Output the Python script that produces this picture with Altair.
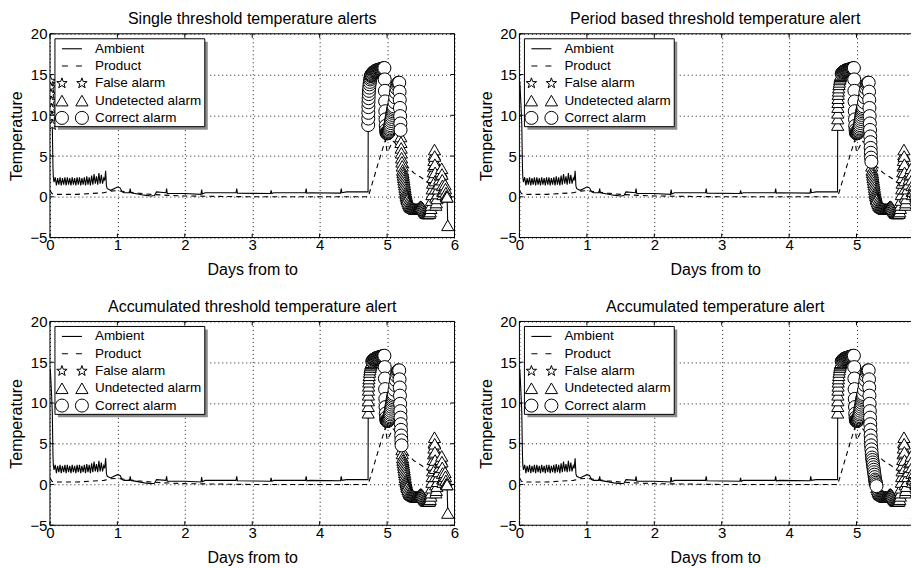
import altair as alt
import pandas as pd

FONT = "Liberation Sans"

TITLES = [
    "Single threshold temperature alerts",
    "Period based threshold temperature alert",
    "Accumulated threshold temperature alert",
    "Accumulated temperature alert",
]
X_TICKS = [0, 1, 2, 3, 4, 5, 6]
Y_TICKS = [-5, 0, 5, 10, 15, 20]
X_TITLE = "Days from to"
Y_TITLE = "Temperature"

# Ambient temperature (days, degrees)
T_AMB = [
    0.000, 0.005, 0.010, 0.015, 0.020, 0.025, 0.030, 0.035, 0.040, 0.045, 0.050, 0.060,
    0.078, 0.096, 0.114, 0.132, 0.150, 0.168, 0.186, 0.204, 0.222, 0.240,
    0.258, 0.276, 0.294, 0.312, 0.330, 0.348, 0.366, 0.384, 0.402, 0.420,
    0.438, 0.456, 0.474, 0.492, 0.510, 0.528, 0.546, 0.564, 0.582, 0.600,
    0.618, 0.636, 0.654, 0.672, 0.690, 0.708, 0.726, 0.744, 0.762, 0.780, 0.798,
    0.812, 0.826, 0.838, 0.850,
    0.90, 0.95, 1.00, 1.04, 1.07, 1.10, 1.18, 1.19, 1.20, 1.30,
    1.40, 1.50, 1.55, 1.58, 1.72, 1.73, 1.74, 2.00, 2.24, 2.25,
    2.26, 2.30, 2.76, 2.77, 2.78, 3.27, 3.28, 3.29, 3.32, 3.79,
    3.80, 3.81, 3.86, 4.31, 4.32, 4.33, 4.40, 4.718,
    4.720, 4.721, 4.722, 4.723, 4.724, 4.726, 4.728, 4.731, 4.735, 4.740,
    4.745, 4.750, 4.755, 4.760, 4.765, 4.770, 4.780, 4.790, 4.800, 4.810,
    4.820, 4.830, 4.840, 4.850, 4.860, 4.870, 4.880, 4.890, 4.900, 4.910,
    4.920, 4.930, 4.940, 4.950, 4.960, 4.965, 4.968, 4.971, 4.974, 4.977,
    4.980, 4.985, 4.990, 4.995, 5.000, 5.005, 5.010, 5.015, 5.020, 5.025,
    5.030, 5.035, 5.040, 5.045, 5.050, 5.055, 5.060, 5.065, 5.070, 5.075,
    5.080, 5.085, 5.090, 5.095, 5.100, 5.110, 5.120, 5.130, 5.140, 5.150,
    5.160, 5.170, 5.180, 5.185, 5.188, 5.191, 5.194, 5.197, 5.200, 5.203,
    5.206, 5.209, 5.212, 5.215, 5.220, 5.225, 5.230, 5.235, 5.240, 5.245,
    5.250, 5.255, 5.260, 5.265, 5.270, 5.275, 5.280, 5.285, 5.290, 5.295,
    5.300, 5.310, 5.320, 5.330, 5.340, 5.350, 5.360, 5.370, 5.380, 5.390,
    5.400, 5.410, 5.420, 5.430, 5.440, 5.450, 5.460, 5.470, 5.480, 5.490,
    5.500, 5.510, 5.520, 5.530, 5.540, 5.550, 5.560, 5.570, 5.580, 5.590,
    5.600, 5.610, 5.620, 5.630, 5.640, 5.650, 5.655, 5.660, 5.665, 5.670,
    5.675, 5.680, 5.685, 5.690, 5.695, 5.700, 5.703, 5.706, 5.709, 5.712,
    5.715, 5.718, 5.721, 5.724, 5.730, 5.740, 5.750, 5.760, 5.770, 5.780,
    5.790, 5.800, 5.810, 5.814, 5.818, 5.822, 5.826, 5.830, 5.840, 5.850,
    5.860, 5.866, 5.872, 5.878, 5.884, 5.890, 5.900,
]
Y_AMB = [
    13.8, 14.2, 13.4, 12.6, 11.7, 10.8, 9.8, 8.8, 6.0, 3.5, 2.4, 1.8,
    2.4, 1.4, 2.3, 1.5, 2.4, 1.4, 2.3, 1.5, 2.4, 1.4,
    2.4, 1.5, 2.3, 1.4, 2.4, 1.5, 2.3, 1.4, 2.4, 1.5,
    2.4, 1.4, 2.3, 1.5, 2.4, 1.4, 2.5, 1.5, 2.4, 1.4,
    2.6, 1.5, 2.8, 1.6, 2.5, 1.5, 2.9, 1.6, 2.7, 1.6, 2.3,
    2.0, 3.2, 1.3, 1.0,
    0.8, 1.0, 1.2, 1.1, 0.6, 0.5, 0.5, 1.0, 0.5, 0.35,
    0.2, 0.1, 0.15, 0.6, 0.5, 1.0, 0.4, 0.4, 0.3, 0.9,
    0.35, 0.5, 0.5, 1.0, 0.45, 0.4, 0.8, 0.4, 0.5, 0.5,
    1.0, 0.45, 0.5, 0.45, 1.0, 0.5, 0.6, 0.6,
    8.8, 9.6, 10.3, 11.0, 11.6, 12.1, 12.6, 13.0, 13.4, 13.8,
    14.1, 14.4, 14.6, 14.8, 14.9, 15.0, 15.1, 15.2, 15.3, 15.35,
    15.4, 15.45, 15.5, 15.5, 15.55, 15.55, 15.6, 15.6, 15.65, 15.65,
    15.7, 15.7, 15.75, 15.75, 15.8, 14.4, 13.0, 11.7, 10.5, 9.5,
    8.7, 8.2, 7.9, 7.8, 7.8, 7.8, 7.8, 7.85, 7.9, 8.0,
    8.1, 8.25, 8.4, 8.6, 8.8, 9.05, 9.3, 9.55, 9.8, 10.05,
    10.3, 10.5, 10.7, 10.9, 11.1, 11.6, 12.2, 12.8, 13.3, 13.7,
    13.9, 14.0, 14.0, 12.9, 11.9, 10.9, 9.9, 9.0, 8.2, 7.4,
    6.7, 6.0, 5.4, 4.8, 4.3, 3.8, 3.3, 3.0, 2.7, 2.4,
    2.1, 1.8, 1.5, 1.2, 0.9, 0.6, 0.4, 0.2, 0.0, -0.2,
    -0.35, -0.6, -0.8, -1.0, -1.1, -1.2, -1.25, -1.3, -1.35, -1.4,
    -1.45, -1.5, -1.5, -1.5, -1.5, -1.5, -1.45, -1.4, -1.3, -1.2,
    -1.15, -1.2, -1.3, -1.4, -1.55, -1.7, -1.8, -1.9, -2.0, -2.0,
    -2.05, -2.05, -2.0, -2.0, -1.8, -1.4, -1.0, -0.4, 0.3, 1.0,
    1.7, 2.4, 3.1, 3.8, 4.5, 5.2, 5.8, 5.0, 4.0, 3.0,
    2.0, 1.0, 0.0, -1.0, -0.7, -0.2, 0.4, 1.0, 1.6, 2.2,
    2.7, 3.1, 3.5, 2.8, 2.1, 1.4, 0.7, 0.3, 0.7, 1.1,
    1.5, 1.0, 0.5, 0.1, 0.0, 0.0, -3.5,
]

# Product temperature (days, degrees)
T_PROD = [
    0.0, 0.03, 0.06, 0.2, 0.4, 0.6, 0.8, 0.9, 1.0, 1.1,
    1.2, 1.3, 1.5, 1.7, 2.0, 2.5, 3.0, 3.5, 4.0, 4.5,
    4.72, 4.75, 4.8, 4.85, 4.9, 4.95, 4.975, 5.0, 5.03, 5.06,
    5.09, 5.12, 5.16, 5.2, 5.25, 5.3, 5.35, 5.4, 5.5, 5.6,
    5.7, 5.75, 5.8, 5.85, 5.9, 5.95, 6.0,
]
Y_PROD = [
    0.8, 0.4, 0.3, 0.3, 0.3, 0.4, 0.5, 0.7, 0.75, 0.65,
    0.55, 0.45, 0.3, 0.2, 0.1, 0.05, 0.0, 0.0, 0.0, 0.0,
    0.0, 0.8, 2.2, 3.6, 5.0, 6.3, 7.0, 5.5, 5.9, 6.4,
    6.8, 6.6, 5.8, 5.0, 4.2, 3.7, 3.3, 2.9, 2.4, 1.8,
    1.0, 0.7, 0.4, 0.1, -0.2, -0.4, -0.6,
]

# Alarm classification of ambient samples per panel: (kind, from day, to day)
SEGMENTS = [
    [("False alarm", 0.0, 0.036), ("Correct alarm", 4.72, 5.201), ("Undetected alarm", 5.202, 6.0)],
    [("Undetected alarm", 4.72, 4.775), ("Correct alarm", 4.776, 5.221), ("Undetected alarm", 5.222, 6.0)],
    [("Undetected alarm", 4.72, 4.775), ("Correct alarm", 4.776, 5.216), ("Undetected alarm", 5.217, 6.0)],
    [("Undetected alarm", 4.72, 4.775), ("Correct alarm", 4.776, 5.296), ("Undetected alarm", 5.297, 6.0)],
]

KINDS = ["False alarm", "Undetected alarm", "Correct alarm"]
STAR = ("M0,-1L0.235,-0.324L0.951,-0.309L0.38,0.124L0.588,0.809L0,0.4"
        "L-0.588,0.809L-0.38,0.124L-0.951,-0.309L-0.235,-0.324Z")
SHAPES = {"False alarm": STAR, "Undetected alarm": "triangle-up", "Correct alarm": "circle"}
SIZES = {"False alarm": 120, "Undetected alarm": 150, "Correct alarm": 170}
LEGEND_LABELS = ["Ambient", "Product", "False alarm", "Undetected alarm", "Correct alarm"]

# layout: left column shows the full 0..6 day axis, right column is cut by the page edge
PX_PER_DAY = 67.5
W_LEFT, W_RIGHT, H = 405, 392, 204
LEG_Y0, LEG_DY = 15, 17.3
TICK_LEN = 4


def make_panel(k, width, full):
    amb = pd.DataFrame({"t": T_AMB, "v": Y_AMB})
    amb["i"] = range(len(amb))
    prod = pd.DataFrame({"t": T_PROD, "v": Y_PROD})
    prod["i"] = range(len(prod))

    def kind_of(t):
        for name, a, b in SEGMENTS[k]:
            if a <= t <= b:
                return name
        return ""

    amb["kind"] = amb["t"].map(kind_of)

    xmax = width / PX_PER_DAY
    xt = [v for v in X_TICKS if v <= xmax + 1e-9]
    x = alt.X("t:Q", scale=alt.Scale(domain=[0, xmax], nice=False, zero=False),
              axis=alt.Axis(values=xt, title=X_TITLE, format="d"))
    y = alt.Y("v:Q", scale=alt.Scale(domain=[-5, 20], nice=False, zero=False),
              axis=alt.Axis(values=Y_TICKS, title=Y_TITLE, format="d"))

    layers = [
        alt.Chart(amb).mark_line(color="black", strokeWidth=1.1, clip=True)
        .encode(x=x, y=y, order="i:Q"),
        alt.Chart(prod).mark_line(color="black", strokeWidth=1.1, strokeDash=[5, 4], clip=True)
        .encode(x="t:Q", y="v:Q", order="i:Q"),
    ]
    for kind in KINDS:
        sub = amb[amb["kind"] == kind]
        if len(sub):
            layers.append(
                alt.Chart(sub).mark_point(shape=SHAPES[kind], size=SIZES[kind], filled=True,
                                          fill="white", stroke="black", strokeWidth=1.0,
                                          opacity=1, clip=True)
                .encode(x="t:Q", y="v:Q")
            )

    one = pd.DataFrame({"a": [0]})
    # frame
    frame = [(0, width, 0, 0), (0, width, H, H), (0, 0, 0, H)]
    if full:
        frame.append((width, width, 0, H))
    for x0, x1, y0, y1 in frame:
        layers.append(alt.Chart(one).mark_rule(color="black", strokeWidth=1)
                      .encode(x=alt.value(x0), x2=alt.value(x1), y=alt.value(y0), y2=alt.value(y1)))
    # inward ticks (matplotlib style)
    xtd = pd.DataFrame({"t": xt})
    ytd = pd.DataFrame({"v": Y_TICKS})
    layers.append(alt.Chart(xtd).mark_rule(color="black", strokeWidth=1)
                  .encode(x="t:Q", y=alt.value(0), y2=alt.value(TICK_LEN)))
    layers.append(alt.Chart(xtd).mark_rule(color="black", strokeWidth=1)
                  .encode(x="t:Q", y=alt.value(H - TICK_LEN), y2=alt.value(H)))
    layers.append(alt.Chart(ytd).mark_rule(color="black", strokeWidth=1)
                  .encode(y="v:Q", x=alt.value(0), x2=alt.value(TICK_LEN)))
    if full:
        layers.append(alt.Chart(ytd).mark_rule(color="black", strokeWidth=1)
                      .encode(y="v:Q", x=alt.value(width - TICK_LEN), x2=alt.value(width)))
    # legend
    layers.append(alt.Chart(one).mark_rect(fill="#8c8c8c")
                  .encode(x=alt.value(8), x2=alt.value(158), y=alt.value(8), y2=alt.value(96)))
    layers.append(alt.Chart(one).mark_rect(fill="white", stroke="black", strokeWidth=1)
                  .encode(x=alt.value(5), x2=alt.value(155), y=alt.value(5), y2=alt.value(93)))
    layers.append(alt.Chart(one).mark_rule(color="black", strokeWidth=1.1)
                  .encode(x=alt.value(12), x2=alt.value(32), y=alt.value(LEG_Y0)))
    layers.append(alt.Chart(one).mark_rule(color="black", strokeWidth=1.1, strokeDash=[6, 8])
                  .encode(x=alt.value(12), x2=alt.value(32), y=alt.value(LEG_Y0 + LEG_DY)))
    for j, kind in enumerate(KINDS):
        py = LEG_Y0 + LEG_DY * (2 + j)
        sym = pd.DataFrame({"px": [12, 32], "py": [py, py]})
        layers.append(
            alt.Chart(sym).mark_point(shape=SHAPES[kind], size=SIZES[kind], filled=True,
                                      fill="white", stroke="black", strokeWidth=1.0, opacity=1)
            .encode(x=alt.X("px:Q", scale=None), y=alt.Y("py:Q", scale=None))
        )
    leg = pd.DataFrame({"label": LEGEND_LABELS})
    leg["py"] = [LEG_Y0 + LEG_DY * r for r in range(len(LEGEND_LABELS))]
    layers.append(
        alt.Chart(leg).mark_text(align="left", baseline="middle", fontSize=13.5, font=FONT,
                                 color="black")
        .encode(x=alt.value(45), y=alt.Y("py:Q", scale=None), text="label:N")
    )
    return alt.layer(*layers).properties(
        width=width, height=H,
        title=alt.TitleParams(TITLES[k], frame="group"),
    )


row1 = alt.hconcat(make_panel(0, W_LEFT, True), make_panel(1, W_RIGHT, False), spacing=18)
row2 = alt.hconcat(make_panel(2, W_LEFT, True), make_panel(3, W_RIGHT, False), spacing=18)
chart = (
    alt.vconcat(row1, row2, spacing=21)
    .properties(padding={"left": 0, "top": 2.5, "right": 0, "bottom": 0})
    .configure_view(stroke=None)
    .configure_axis(labelFont=FONT, titleFont=FONT, labelFontSize=15, titleFontSize=16,
                    titleFontWeight="normal", labelColor="black", titleColor="black",
                    grid=True, gridColor="black", gridDash=[1, 3], gridOpacity=0.9,
                    gridWidth=1, domain=False, ticks=False, labelPadding=3,
                    labelFlush=False, labelOverlap=False)
    .configure_axisX(labelPadding=0, titlePadding=9)
    .configure_axisY(titlePadding=5)
    .configure_title(font=FONT, fontSize=16, fontWeight="normal", color="black", offset=-0.5)
)
chart.save("out.html", embed_options={"renderer": "svg", "actions": False})
